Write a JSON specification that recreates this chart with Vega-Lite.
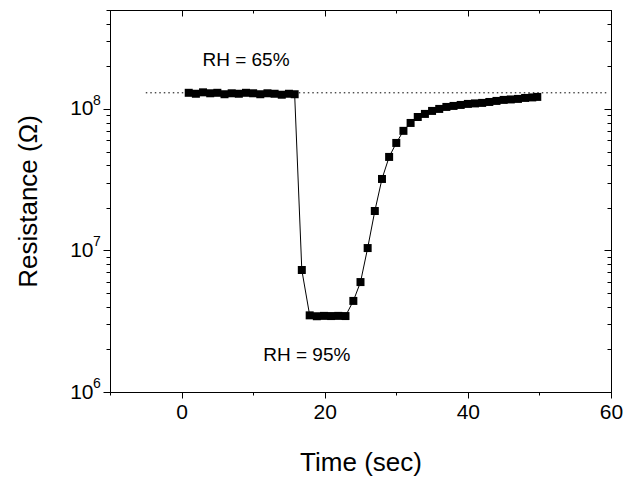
{
  "$schema": "https://vega.github.io/schema/vega-lite/v6.json",
  "autosize": "none",
  "width": 501,
  "height": 382,
  "padding": {"left": 110, "top": 10, "right": 27, "bottom": 86},
  "background": "white",
  "config": {
    "view": {"stroke": "black", "strokeWidth": 1},
    "font": "Liberation Sans",
    "axis": {
      "grid": false,
      "domainColor": "black",
      "tickColor": "black",
      "labelColor": "black",
      "titleColor": "black",
      "labelFont": "Liberation Sans",
      "titleFont": "Liberation Sans",
      "labelFontSize": 21,
      "titleFontSize": 26,
      "titleFontWeight": "normal"
    }
  },
  "datasets": {
    "series": [
      {"t": 1, "r": 130000000}, {"t": 2, "r": 128000000}, {"t": 3, "r": 131000000}, {"t": 4, "r": 129000000},
      {"t": 5, "r": 130000000}, {"t": 6, "r": 127000000}, {"t": 7, "r": 129000000}, {"t": 8, "r": 128000000},
      {"t": 9, "r": 130000000}, {"t": 10, "r": 129000000}, {"t": 11, "r": 127000000}, {"t": 12, "r": 129000000},
      {"t": 13, "r": 128000000}, {"t": 14, "r": 126000000}, {"t": 15, "r": 128000000}, {"t": 15.8, "r": 127000000},
      {"t": 16.8, "r": 7280000},
      {"t": 17.9, "r": 3480000}, {"t": 18.9, "r": 3430000}, {"t": 19.9, "r": 3450000}, {"t": 20.9, "r": 3440000},
      {"t": 21.9, "r": 3450000}, {"t": 22.9, "r": 3440000},
      {"t": 24, "r": 4400000}, {"t": 25, "r": 5980000}, {"t": 26, "r": 10400000}, {"t": 27, "r": 19000000},
      {"t": 28, "r": 32000000}, {"t": 29, "r": 45800000}, {"t": 30, "r": 57500000}, {"t": 31, "r": 70000000},
      {"t": 32, "r": 79600000}, {"t": 33, "r": 87700000}, {"t": 34, "r": 92200000}, {"t": 35, "r": 96800000},
      {"t": 36, "r": 100000000}, {"t": 37, "r": 103300000}, {"t": 38, "r": 105000000}, {"t": 39, "r": 106700000},
      {"t": 40, "r": 108500000}, {"t": 41, "r": 109400000}, {"t": 42, "r": 110300000}, {"t": 43, "r": 112000000},
      {"t": 44, "r": 113900000}, {"t": 45, "r": 115800000}, {"t": 46, "r": 116700000}, {"t": 47, "r": 117700000},
      {"t": 48, "r": 119600000}, {"t": 49, "r": 120600000}, {"t": 49.7, "r": 121600000}
    ],
    "baseline": [{"t1": -5, "t2": 59.5, "r": 130000000}],
    "labels": [
      {"t": 9, "r": 222000000, "label": "RH = 65%"},
      {"t": 17.5, "r": 1820000, "label": "RH = 95%"}
    ],
    "exponents": [
      {"r": 1000000, "e": "6"},
      {"r": 10000000, "e": "7"},
      {"r": 100000000, "e": "8"}
    ]
  },
  "layer": [
    {
      "data": {"name": "series"},
      "mark": {"type": "line", "color": "black", "strokeWidth": 1, "clip": true,
               "point": {"shape": "square", "size": 64, "filled": true, "color": "black", "opacity": 1}},
      "encoding": {
        "x": {"field": "t", "type": "quantitative",
              "scale": {"domain": [-10, 60], "nice": false, "zero": false},
              "axis": {
                "orient": "bottom",
                "title": "Time (sec)",
                "titleY": 70, "titleBaseline": "middle",
                "values": [-10, 0, 10, 20, 30, 40, 50, 60],
                "labelExpr": "datum.value % 20 == 0 ? datum.label : ''",
                "labelPadding": 3,
                "labelFlush": false,
                "labelOverlap": false,
                "tickSize": {"condition": {"test": "datum.value % 20 == 0", "value": 6}, "value": 3}
              }},
        "y": {"field": "r", "type": "quantitative",
              "scale": {"type": "log", "domain": [1000000, 500000000], "nice": false},
              "axis": {
                "orient": "left",
                "title": "Resistance (Ω)",
                "titleX": -82, "titleBaseline": "middle",
                "values": [1000000, 2000000, 3000000, 4000000, 5000000, 6000000, 7000000, 8000000, 9000000,
                           10000000, 20000000, 30000000, 40000000, 50000000, 60000000, 70000000, 80000000, 90000000,
                           100000000, 200000000, 300000000, 400000000, 500000000],
                "labelExpr": "(datum.value == 1000000 || datum.value == 10000000 || datum.value == 100000000) ? '10' : ''",
                "labelPadding": 10,
                "labelFlush": false,
                "labelOverlap": false,
                "tickSize": {"condition": {"test": "datum.value == 1000000 || datum.value == 10000000 || datum.value == 100000000", "value": 7}, "value": 4}
              }}
      }
    },
    {
      "data": {"name": "baseline"},
      "mark": {"type": "rule", "color": "black", "strokeWidth": 1, "strokeDash": [1.5, 3]},
      "encoding": {
        "x": {"field": "t1", "type": "quantitative",
              "scale": {"domain": [-10, 60], "nice": false, "zero": false},
              "axis": {
                "orient": "top", "title": null, "labels": false,
                "values": [-10, 0, 10, 20, 30, 40, 50, 60],
                "tickSize": {"condition": {"test": "datum.value % 20 == 0", "value": -6}, "value": -3}
              }},
        "x2": {"field": "t2"},
        "y": {"field": "r", "type": "quantitative",
              "scale": {"type": "log", "domain": [1000000, 500000000], "nice": false},
              "axis": {
                "orient": "right", "title": null, "labels": false,
                "values": [1000000, 2000000, 3000000, 4000000, 5000000, 6000000, 7000000, 8000000, 9000000,
                           10000000, 20000000, 30000000, 40000000, 50000000, 60000000, 70000000, 80000000, 90000000,
                           100000000, 200000000, 300000000, 400000000, 500000000],
                "tickSize": {"condition": {"test": "datum.value == 1000000 || datum.value == 10000000 || datum.value == 100000000", "value": -7}, "value": -4}
              }}
      }
    },
    {
      "data": {"name": "labels"},
      "mark": {"type": "text", "font": "Liberation Sans", "fontSize": 19, "color": "black", "align": "center", "baseline": "middle"},
      "encoding": {
        "x": {"field": "t", "type": "quantitative", "axis": null},
        "y": {"field": "r", "type": "quantitative", "axis": null},
        "text": {"field": "label"}
      }
    },
    {
      "data": {"name": "exponents"},
      "mark": {"type": "text", "font": "Liberation Sans", "fontSize": 14, "color": "black", "align": "left", "baseline": "middle", "dx": -17, "dy": -8, "clip": false},
      "encoding": {
        "x": {"datum": -10, "type": "quantitative", "axis": null},
        "y": {"field": "r", "type": "quantitative", "axis": null},
        "text": {"field": "e"}
      }
    }
  ],
  "resolve": {"axis": {"x": "independent", "y": "independent"}}
}
